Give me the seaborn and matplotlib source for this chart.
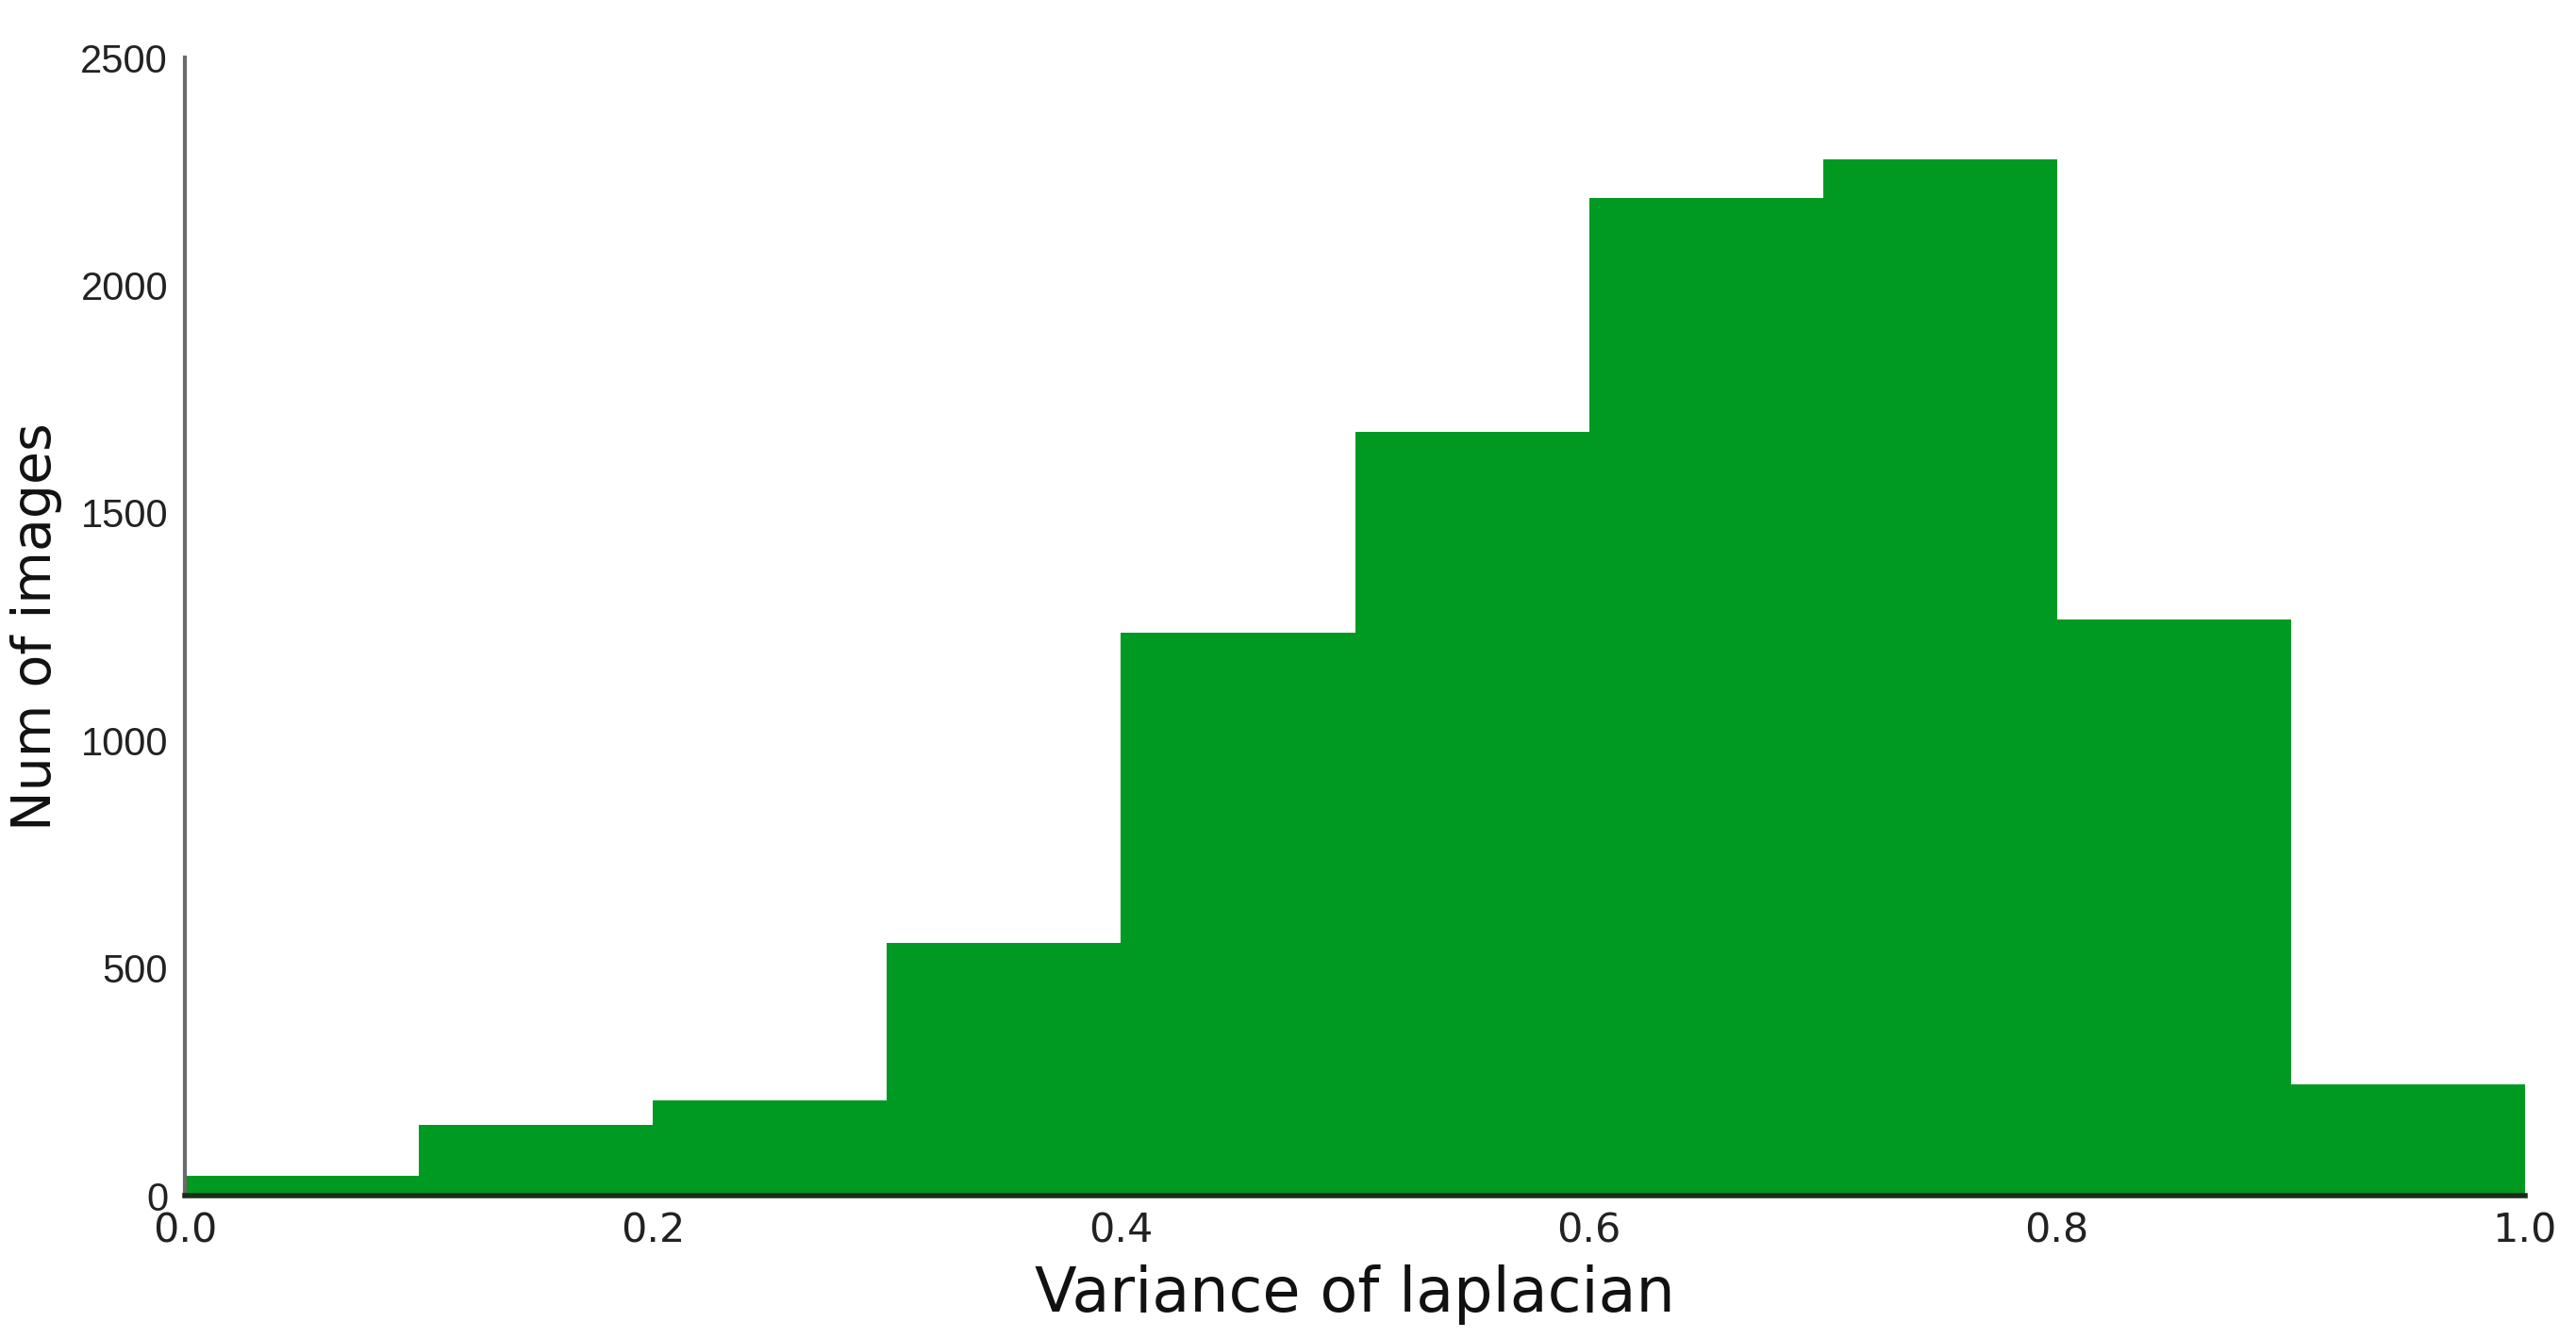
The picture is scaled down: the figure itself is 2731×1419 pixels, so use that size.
import numpy as np
import pandas as pd
import matplotlib
matplotlib.use("Agg")
import matplotlib.pyplot as plt
import seaborn as sns

# Data
bin_edges = [0.0, 0.1, 0.2, 0.3, 0.4, 0.5, 0.6, 0.7, 0.8, 0.9, 1.0]
counts = [43, 155, 209, 556, 1237, 1678, 2191, 2276, 1266, 245]
x_ticks = [0.0, 0.2, 0.4, 0.6, 0.8, 1.0]
x_tick_labels = ["0.0", "0.2", "0.4", "0.6", "0.8", "1.0"]
y_ticks = [0, 500, 1000, 1500, 2000, 2500]
y_tick_labels = ["0", "500", "1000", "1500", "2000", "2500"]

centers = [(bin_edges[i] + bin_edges[i + 1]) / 2 for i in range(len(counts))]
df = pd.DataFrame({"value": centers, "count": counts})

sns.set_style("white")
plt.rcParams['font.family'] = ['DejaVu Sans']

fig = plt.figure(figsize=(27.31, 14.19), dpi=100)
ax = fig.add_axes([0.0718, 0.1064, 0.9802 - 0.0718, 0.957 - 0.1064])

sns.histplot(data=df, x="value", weights="count", bins=bin_edges,
             color="#009a22", alpha=1.0, linewidth=0, edgecolor="none",
             element="bars", fill=True, ax=ax)

ax.set_xlim(0, 1.0)
ax.set_ylim(0, 2500)

ax.set_xticks(x_ticks)
ax.set_xticklabels(x_tick_labels, fontfamily="DejaVu Sans", fontsize=31, color="#222222")
ax.set_yticks(y_ticks)
ax.set_yticklabels(y_tick_labels, fontfamily=["Liberation Sans", "DejaVu Sans"], fontsize=30, color="#222222")

ax.tick_params(axis="x", direction="in", length=11, width=2.2, color="#111111", pad=12)
ax.tick_params(axis="y", direction="in", length=12, width=2.2, color="#555555", pad=13)

for s in ["top", "right"]:
    ax.spines[s].set_visible(False)
ax.spines["left"].set_color("#6a6a6a")
ax.spines["left"].set_linewidth(3.0)
ax.spines["bottom"].set_color("#1d2b1d")
ax.spines["bottom"].set_linewidth(4.0)
ax.spines["left"].set_zorder(3)
ax.spines["bottom"].set_zorder(3)

ax.set_xlabel("Variance of laplacian", fontsize=47, fontfamily="DejaVu Sans", labelpad=10, color="#111111")
ax.set_ylabel("Num of images", fontsize=41, fontfamily="DejaVu Sans", labelpad=14, color="#111111")

fig.savefig("out.png", dpi=100, facecolor="white")
